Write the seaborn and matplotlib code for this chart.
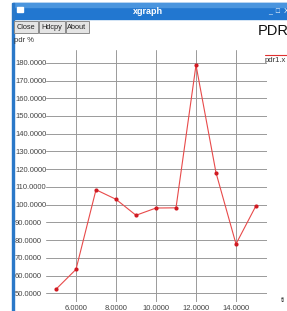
import numpy as np
import pandas as pd
import seaborn as sns
import matplotlib.pyplot as plt
from matplotlib.patches import Rectangle
from matplotlib.ticker import FormatStrFormatter

# values
time = [5, 6, 7, 8, 9, 10, 11, 12, 13, 14, 15]
pdr = [52.3, 63.5, 108.4, 103.0, 94.0, 98.1, 98.2, 178.7, 118.0, 77.8, 99.4]
yticks = list(range(50, 190, 10))
xticks = [6, 8, 10, 12, 14]

df = pd.DataFrame({'time': time, 'pdr': pdr})

sns.set_style('white')
plt.rcParams['font.family'] = ['Liberation Sans', 'DejaVu Sans']

W, H = 287, 311
fig = plt.figure(figsize=(W / 100, H / 100), dpi=100)
fig.patch.set_facecolor('white')

# window chrome, drawn in pixel coords
bg = fig.add_axes([0, 0, 1, 1])
bg.set_xlim(0, W)
bg.set_ylim(H, 0)
bg.axis('off')
bg.add_patch(Rectangle((13, 3), 280, 16, color='#2277d0', zorder=1))
bg.add_patch(Rectangle((13, 3), 280, 4, color='#4a95de', zorder=1))
bg.add_patch(Rectangle((12, 3), 1.5, 310, color='#2a78c8', zorder=2))
bg.add_patch(Rectangle((17, 7), 6, 5, color='white', zorder=3))
bg.text(148, 11, 'xgraph', color='white', fontsize=6.5, fontweight='bold',
        ha='center', va='center')
bg.text(268, 11, '_  \u25a1  X', color='white', fontsize=5, ha='left', va='center')
for x0, w, lab in [(13.5, 24, 'Close'), (38.5, 26, 'Hdcpy'), (65.5, 23, 'About')]:
    bg.add_patch(Rectangle((x0, 21), w, 12, facecolor='#e4e4e4', edgecolor='#8a8a8a',
                           lw=0.7, zorder=2))
    bg.text(x0 + w / 2, 27.5, lab, fontsize=5.3, ha='center', va='center', color='#222222', zorder=3)
bg.text(14, 41, 'pdr %', fontsize=5.5, ha='left', va='center', color='#333333')
bg.text(258, 31, 'PDR', fontsize=10.5, ha='left', va='center', color='#111111')
bg.plot([265, 290], [55, 55], color='#e03030', lw=0.8)
bg.text(265, 60, 'pdr1.x', fontsize=5.5, ha='left', va='center', color='#333333')
bg.text(281, 300, 'ti', fontsize=5.5, ha='left', va='center', color='#333333')

# plot area
ax = fig.add_axes([46 / W, (H - 302) / H, 221 / W, 252 / H])
ax.set_facecolor('none')
sns.lineplot(data=df, x='time', y='pdr', ax=ax, color='#e84a4a', lw=0.8,
             marker='o', markersize=3, markeredgewidth=0, markerfacecolor='#d01a22')
ax.set_xlim(4.5, 15.55)
ax.set_ylim(45.1, 187.2)
ax.set_xticks(xticks)
ax.set_yticks(yticks)
ax.xaxis.set_major_formatter(FormatStrFormatter('%.4f'))
ax.yaxis.set_major_formatter(FormatStrFormatter('%.4f'))
ax.grid(True, color='#9a9a9a', lw=0.7)
for s in ax.spines.values():
    s.set_visible(False)
ax.tick_params(axis='y', length=0, pad=22.3, labelsize=5.5, labelcolor='#444444')
ax.tick_params(axis='x', length=0, pad=2, labelsize=5.5, labelcolor='#444444')
for lab in ax.get_yticklabels():
    lab.set_horizontalalignment('left')
ax.set_xlabel('')
ax.set_ylabel('')

fig.savefig('out.png', dpi=100)
